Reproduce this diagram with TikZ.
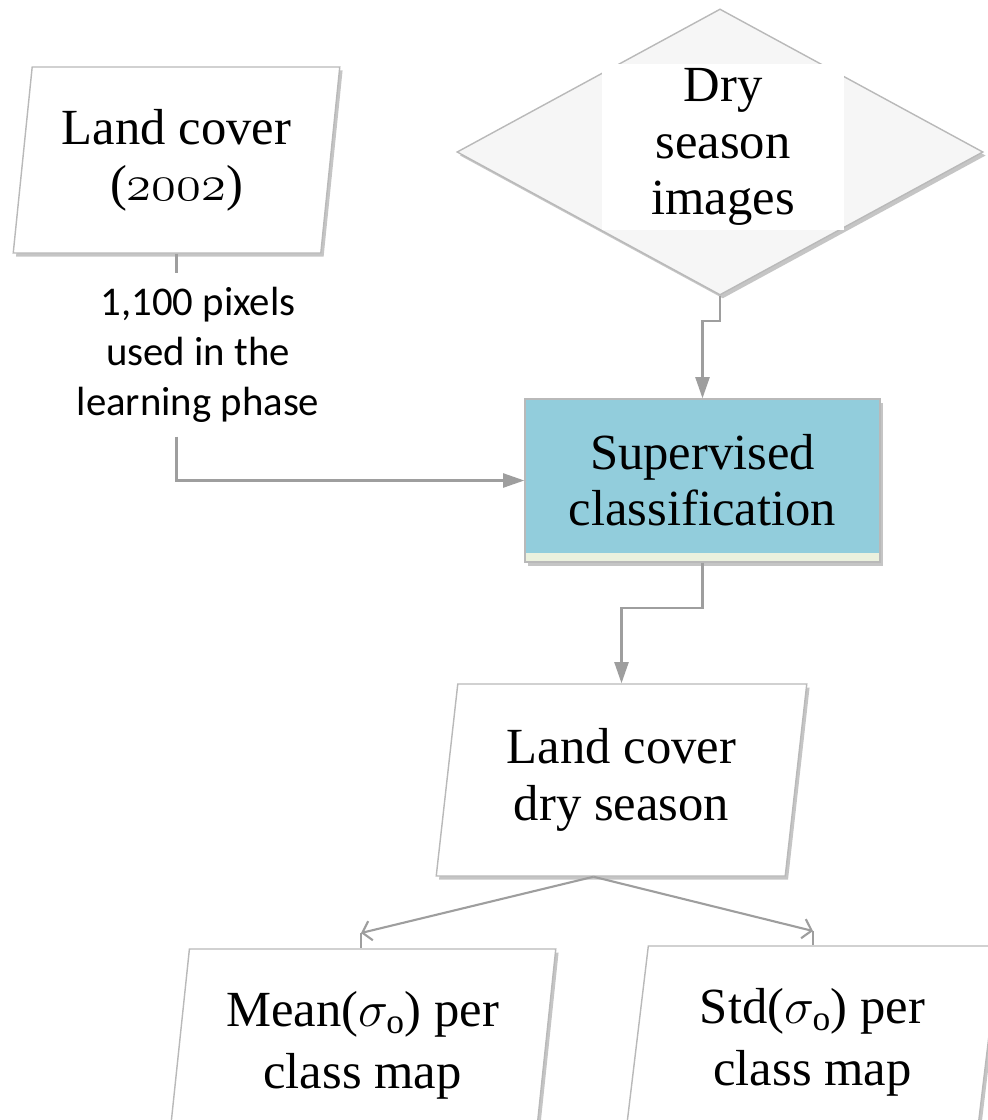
\RequirePackage{fix-cm}
\documentclass[tikz,border=0pt]{standalone}
\usepackage{fontspec}
\setmainfont{Liberation Serif}
\newfontfamily\labelfont{Carlito}
\usetikzlibrary{arrows.meta,shapes.geometric,shadows}

\definecolor{linegray}{RGB}{158,158,158}
\definecolor{edgegray}{RGB}{185,185,185}
\definecolor{classblue}{RGB}{146,205,220}
\definecolor{stripgreen}{RGB}{235,241,222}

\begin{document}
\begin{tikzpicture}[x=0.025cm, y=-0.025cm, > = {Straight Barb[length=6pt,width=14pt]},
    flow/.style = {draw=linegray, line width=1.5pt, -{Triangle[length=15pt,width=10pt]}},
    split/.style = {draw=linegray, line width=1.5pt, ->},
    stub/.style = {draw=linegray, line width=1.5pt},
    boxtext/.style = {font=\fontsize{36}{40}\selectfont, align=center},
    shade/.style = {drop shadow={shadow xshift=2pt, shadow yshift=-2.5pt, fill=black!45}},
    datain/.style = {boxtext, shade, trapezium, trapezium left angle=82, trapezium right angle=98, trapezium stretches=true, draw=edgegray, line width=1pt, fill=white, minimum height=4.8cm},
    decision/.style = {diamond, shade, draw=edgegray, line width=1pt, fill=gray!7, inner sep=0pt, minimum width=13.15cm, minimum height=7.15cm},
    process/.style = {boxtext, shade, rectangle, draw=edgegray, line width=1pt, fill=classblue, minimum width=8.875cm, minimum height=4.075cm,
        path picture={\fill[stripgreen] ([yshift=0.225cm]path picture bounding box.south west) rectangle (path picture bounding box.south east);}}]

    \useasboundingbox (0,0) rectangle (988,1120);

    % inputs
    \node[datain, minimum width=8.175cm, minimum height=4.65cm] (landcover) at (176.5,160) {Land cover\\(\ensuremath{\mathnormal{2002}})};
    \node[decision] (images) at (720,152) {};
    \node[boxtext, fill=white, minimum width=6.05cm, minimum height=3.8cm] (imagestext) at (723,147) {Dry\\season\\images};
    \node[font=\labelfont\fontsize{29}{35.4}\selectfont, align=center, fill=white, inner ysep=0.35cm] (pixels) at (198,355) {1,100 pixels\\used in the\\learning phase};

    % classification and outputs
    \node[process] (classif) at (702.5,480.5) {Supervised\\classification};
    \node[datain, minimum width=9.275cm] (drycover) at (621.5,780) {Land cover\\dry season};
    \node[datain, minimum width=9.675cm] (meanbox) at (362.5,1045) {Mean($\sigma_{\mathrm{o}}$) per\\[4pt]class map};
    \node[datain, minimum width=9.375cm] (stdbox) at (812.5,1042) {Std($\sigma_{\mathrm{o}}$) per\\[4pt]class map};

    % connectors
    \draw[stub] (landcover.south -| landcover.center) -- (pixels.north -| landcover.center);
    \draw[flow] (pixels.south -| landcover.center) |- (classif.west);
    \draw[flow] (images.south) -- ++(0,25) -| (classif.north);
    \draw[flow] (classif.south) -- ++(0,45) -| (drycover.north -| drycover.center);

    \coordinate (meantip) at (361,933);
    \coordinate (stdtip) at (813,931);
    \draw[split] ([xshift=-0.7cm]drycover.south) -- (meantip);
    \draw[stub] (meantip) -- (meantip |- meanbox.north);
    \draw[split] ([xshift=-0.7cm]drycover.south) -- (stdtip);
    \draw[stub] (stdtip) -- (stdtip |- stdbox.north);

\end{tikzpicture}
\end{document}
